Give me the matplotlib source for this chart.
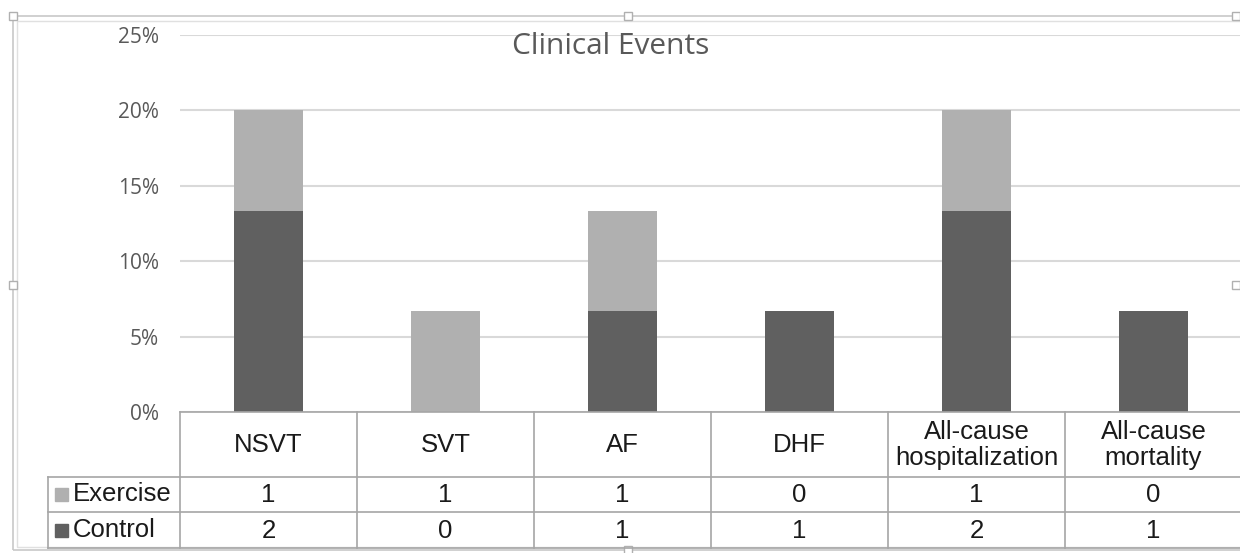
import numpy as np
import matplotlib.pyplot as plt
from matplotlib.patches import Rectangle

# categories and values
categories = ['NSVT', 'SVT', 'AF', 'DHF', 'All-cause\nhospitalization', 'All-cause\nmortality']
control_pct = [13.33, 0, 6.67, 6.67, 13.33, 6.67]
exercise_pct = [6.67, 6.67, 6.67, 0, 6.67, 0]
exercise_n = [1, 1, 1, 0, 1, 0]
control_n = [2, 0, 1, 1, 2, 1]
yticks = [0, 5, 10, 15, 20, 25]

W, H = 1240, 553
dark = '#606060'
light = '#b0b0b0'
grid_c = '#d9d9d9'
line_c = '#a6a6a6'

fig = plt.figure(figsize=(W / 100, H / 100), dpi=100)

def fx(px):
    return px / W

def fy(py):
    return 1 - py / H

# plot area: 0% at y=412, 25% at y=35, x from 180 to 1242
ax = fig.add_axes([fx(180), fy(412), fx(1242 - 180), (412 - 35) / H])
x = np.arange(len(categories))
ax.bar(x, control_pct, width=0.39, color=dark, zorder=3)
ax.bar(x, exercise_pct, width=0.39, bottom=control_pct, color=light, zorder=3)
ax.set_xlim(-0.5, len(categories) - 0.5)
ax.set_ylim(0, 25)
ax.set_yticks(yticks)
ax.set_yticklabels([f'{t}%' for t in yticks], fontsize=15, color='#595959', family='Open Sans')
ax.tick_params(axis='y', length=0, pad=15)
ax.set_xticks([])
ax.grid(axis='y', color=grid_c, linewidth=1.5, zorder=0)
for s in ['top', 'right', 'left', 'bottom']:
    ax.spines[s].set_visible(False)

fig.text(fx(611), fy(47), 'Clinical Events', fontsize=21.5, color='#595959',
         family='Open Sans', ha='center', va='center')

# data table below the plot
def hline(y, x0, x1):
    fig.add_artist(plt.Line2D([fx(x0), fx(x1)], [fy(y), fy(y)], color=line_c, lw=1.2))

def vline(xp, y0, y1):
    fig.add_artist(plt.Line2D([fx(xp), fx(xp)], [fy(y0), fy(y1)], color=line_c, lw=1.2))

col_w = 177
hline(412, 180, W)
hline(477, 48, W)
hline(512, 48, W)
hline(548, 48, W)
vline(48, 477, 548)
for i in range(len(categories) + 1):
    vline(180 + i * col_w, 412, 548)

tfont = dict(family='Liberation Sans', fontsize=18.5, color='#1a1a1a', ha='center', va='center')
for i, c in enumerate(categories):
    cx = 180 + col_w * (i + 0.5)
    fig.text(fx(cx), fy(445), c, linespacing=1.1, **tfont)
    fig.text(fx(cx), fy(495), str(exercise_n[i]), **tfont)
    fig.text(fx(cx), fy(531), str(control_n[i]), **tfont)

for name, col, yy in [('Exercise', light, 494), ('Control', dark, 530)]:
    fig.add_artist(Rectangle((fx(55), fy(yy + 6.5)), fx(13), 13 / H, color=col))
    fig.text(fx(73), fy(yy), name, family='Liberation Sans', fontsize=18.5,
             color='#1a1a1a', ha='left', va='center')

# chart frame (selected chart border)
fig.add_artist(Rectangle((fx(13), fy(550)), fx(W), (550 - 16) / H, fill=False,
                         edgecolor='#c8c8c8', lw=1.2))
fig.add_artist(Rectangle((fx(17), fy(547)), fx(W), (547 - 21) / H, fill=False,
                         edgecolor='#e0e0e0', lw=1.0))
for hx, hy in [(13, 16), (628, 16), (13, 285), (628, 550), (1236, 16), (1236, 285)]:
    fig.add_artist(Rectangle((fx(hx - 4), fy(hy + 4)), fx(8), 8 / H, facecolor='white',
                             edgecolor='#b0b0b0', lw=1.0))

fig.savefig('out.png', dpi=100)
